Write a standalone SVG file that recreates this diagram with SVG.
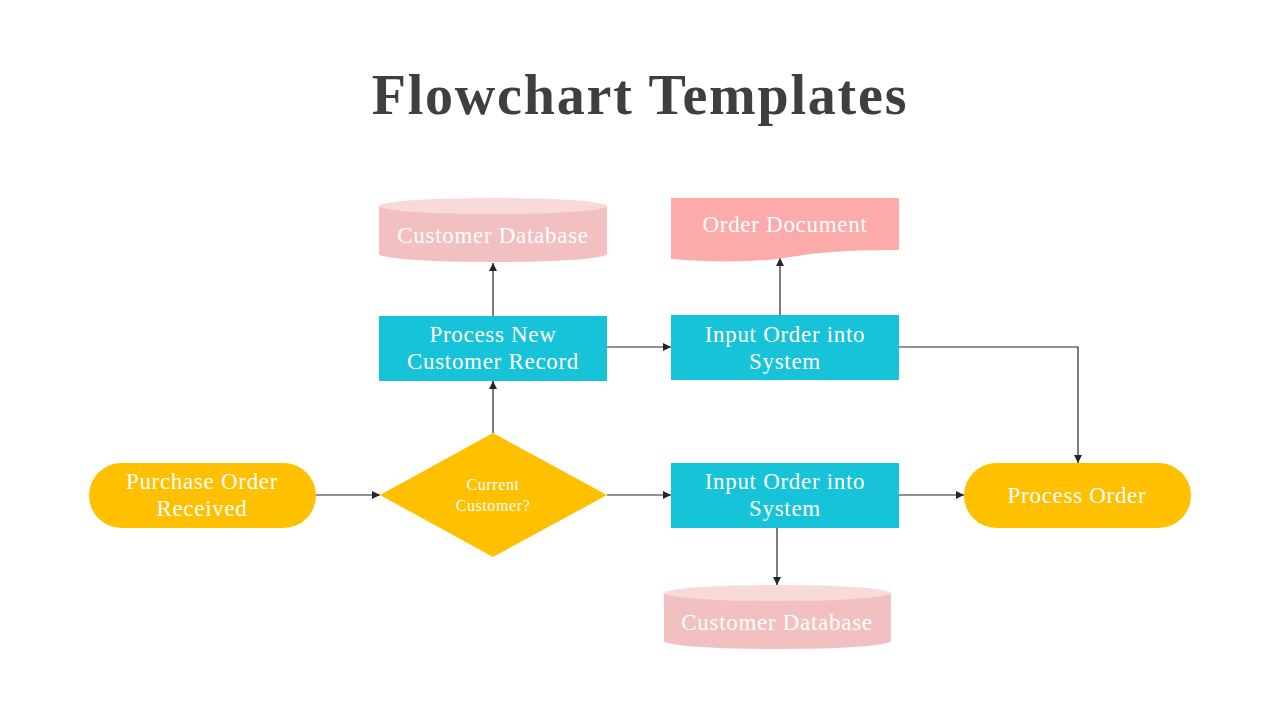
<svg xmlns="http://www.w3.org/2000/svg" width="1280" height="720" viewBox="0 0 1280 720">
<defs>
<marker id="ah" viewBox="0 0 10 10" refX="10" refY="5" markerWidth="8" markerHeight="8" markerUnits="userSpaceOnUse" orient="auto"><path d="M0,0 L10,5 L0,10 z" fill="#262626"/></marker>
<style>
.t{font-family:"Liberation Serif","DejaVu Serif",serif;fill:#fff;font-size:23px;letter-spacing:0.7px;text-anchor:middle}
.s{font-size:16px;letter-spacing:0.6px}
.c{stroke:#262626;stroke-width:1.2;fill:none;marker-end:url(#ah)}
.y{fill:#FFC000}.b{fill:#17C3D8}.pb{fill:#F2C0C0}.pt{fill:#F8DADB}.d{fill:#FCAAAA}
</style>
</defs>
<rect width="1280" height="720" fill="#fff"/>
<text x="640" y="114" font-family="Liberation Serif,DejaVu Serif,serif" font-weight="bold" font-size="56" fill="#3F3F3F" text-anchor="middle" letter-spacing="1.8">Flowchart Templates</text>
<g id="connectors">
<line class="c" x1="316" y1="495" x2="380" y2="495"/>
<line class="c" x1="607" y1="495" x2="671" y2="495"/>
<line class="c" x1="899" y1="495" x2="964" y2="495"/>
<line class="c" x1="493" y1="433" x2="493" y2="381"/>
<line class="c" x1="493" y1="316" x2="493" y2="263"/>
<line class="c" x1="607" y1="347" x2="671" y2="347"/>
<line class="c" x1="780" y1="315" x2="780" y2="258"/>
<polyline class="c" points="899,347 1078,347 1078,463"/>
<line class="c" x1="777" y1="528" x2="777" y2="585"/>
</g>
<g id="start">
<rect class="y" x="89" y="463" width="227" height="65" rx="32.5"/>
<text class="t" x="202" y="489">Purchase Order</text>
<text class="t" x="202" y="516">Received</text>
</g>
<g id="decision">
<polygon class="y" points="493,433 607,495 493,557 380,495"/>
<text class="t s" x="493" y="490">Current</text>
<text class="t s" x="493" y="511">Customer?</text>
</g>
<g id="newcustomer">
<rect class="b" x="379" y="316" width="228" height="65"/>
<text class="t" x="493" y="342">Process New</text>
<text class="t" x="493" y="369">Customer Record</text>
</g>
<g id="db1">
<path class="pb" d="M379,206 L379,254 A114,8 0 0 0 607,254 L607,206 z"/>
<ellipse class="pt" cx="493" cy="206" rx="114" ry="8"/>
<text class="t" x="493" y="243">Customer Database</text>
</g>
<g id="input1">
<rect class="b" x="671" y="315" width="228" height="65"/>
<text class="t" x="785" y="342">Input Order into</text>
<text class="t" x="785" y="369">System</text>
</g>
<g id="document">
<path class="d" d="M671,198 L899,198 L899,250 C850,250 820,252 790,257 C760,262 720,263 671,259 z"/>
<text class="t" x="785" y="232">Order Document</text>
</g>
<g id="input2">
<rect class="b" x="671" y="463" width="228" height="65"/>
<text class="t" x="785" y="489">Input Order into</text>
<text class="t" x="785" y="516">System</text>
</g>
<g id="db2">
<path class="pb" d="M664,593 L664,641 A113.5,8 0 0 0 891,641 L891,593 z"/>
<ellipse class="pt" cx="777.5" cy="593" rx="113.5" ry="8"/>
<text class="t" x="777" y="630">Customer Database</text>
</g>
<g id="process">
<rect class="y" x="964" y="463" width="227" height="65" rx="32.5"/>
<text class="t" x="1077" y="503">Process Order</text>
</g>
</svg>
